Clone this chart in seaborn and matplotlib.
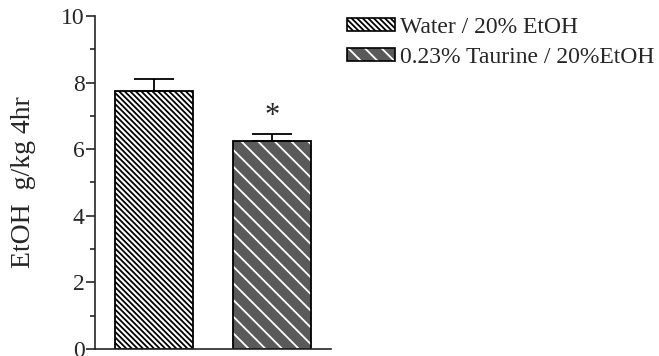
import numpy as np
import matplotlib
matplotlib.use("Agg")
import matplotlib.pyplot as plt
import matplotlib.patches as mpatches
import seaborn as sns

# Data
groups = ["Water / 20% EtOH", "0.23% Taurine / 20%EtOH"]
means = [7.75, 6.25]
sems = [0.35, 0.22]
face_colors = ["white", "#5a5a5a"]
hatch_colors = ["black", "white"]
hatches = ["\\" * 6, "\\" * 2]

sns.set_style("ticks")
plt.rcParams["font.family"] = ["Liberation Serif", "DejaVu Serif"]
plt.rcParams["hatch.linewidth"] = 1.3

fig = plt.figure(figsize=(6.59, 3.56), dpi=100)
ax = fig.add_axes([0.1442, 0.0197, 0.3581, 0.9354])

sns.barplot(x=groups, y=means, hue=groups, palette=face_colors, width=0.66,
            errorbar=None, legend=False, ax=ax)

for p, hc, h in zip(ax.patches, hatch_colors, hatches):
    p.set_edgecolor("black")
    p.set_linewidth(1.3)
    p.set_hatch(h)
    p._hatch_color = matplotlib.colors.to_rgba(hc)

# upper error bars only
pos = np.arange(len(groups))
ax.errorbar(pos, means, yerr=[np.zeros(len(sems)), sems], fmt="none",
            ecolor="black", elinewidth=1.3, capsize=14.4, capthick=1.3, zorder=1)

ax.annotate("*", (pos[1], means[1] + sems[1]), xytext=(0, 2),
            textcoords="offset points", ha="center", va="bottom", fontsize=22)

ax.set_xlim(-0.5, 1.5)
ax.set_ylim(0, 10)
ax.set_yticks([0, 2, 4, 6, 8, 10])
ax.set_yticks([1, 3, 5, 7, 9], minor=True)
ax.set_xticks([])
ax.tick_params(axis="y", which="major", length=6.5, width=1.2, labelsize=17, pad=1)
ax.tick_params(axis="y", which="minor", length=3.6, width=1.2)
ax.set_ylabel("EtOH  g/kg 4hr", fontsize=20, labelpad=18)
for s in ["top", "right"]:
    ax.spines[s].set_visible(False)
for s in ["left", "bottom"]:
    ax.spines[s].set_linewidth(1.2)

# legend
handles = []
for fc, hc, h in zip(face_colors, hatch_colors, hatches):
    hp = mpatches.Patch(facecolor=fc, edgecolor="black", hatch=h, linewidth=1.2)
    hp._hatch_color = matplotlib.colors.to_rgba(hc)
    handles.append(hp)
fig.legend(handles, groups, loc="upper left", bbox_to_anchor=(347 / 659, 1 - 17 / 356),
           frameon=False, fontsize=17, handlelength=2.03, handleheight=0.51,
           handletextpad=0.22, labelspacing=0.38, borderpad=0, borderaxespad=0)

plt.savefig("out.png", dpi=100)
